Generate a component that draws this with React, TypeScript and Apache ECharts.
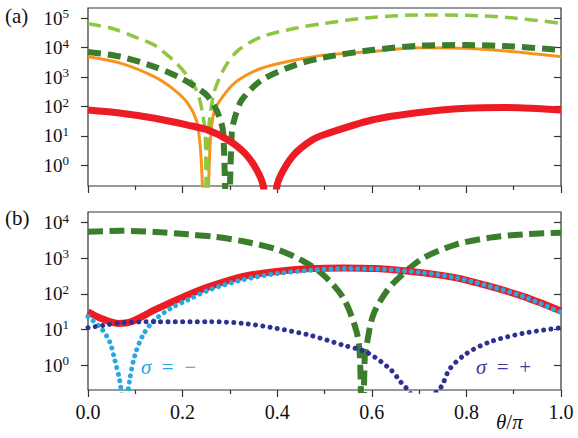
import React, { useEffect, useRef } from "react";
import * as echarts from "echarts";

const FONT = "Liberation Serif";

// axis ticks
const yTicksA = [1, 10, 100, 1000, 10000, 100000];
const yTicksB = [1, 10, 100, 1000, 10000];

// ---------- Panel (a) ----------
const thetaA_lightGreen = [0, 0.05, 0.1, 0.14, 0.17, 0.19, 0.21, 0.225, 0.235, 0.243, 0.248, 0.251, 0.254, 0.259, 0.268, 0.29, 0.318, 0.367, 0.438, 0.5, 0.6, 0.7, 0.8, 0.9, 1.0];
const valA_lightGreen = [65000, 46000, 23000, 12300, 5250, 2630, 1120, 500, 200, 50, 10, 0.001, 10, 63, 363, 2240, 8300, 23400, 45700, 67600, 107000, 129000, 126000, 102000, 67600];

const thetaA_darkGreen = [0, 0.07, 0.141, 0.197, 0.247, 0.268, 0.28, 0.286, 0.295, 0.304, 0.31, 0.325, 0.367, 0.438, 0.5, 0.6, 0.7, 0.8, 0.9, 1.0];
const valA_darkGreen = [7200, 4900, 2240, 910, 280, 98, 35, 12.5, 0.001, 12.5, 40, 166, 790, 2570, 4680, 8300, 11700, 12300, 11000, 8300];

const thetaA_orange = [0, 0.07, 0.141, 0.183, 0.211, 0.229, 0.236, 0.24, 0.249, 0.257, 0.261, 0.268, 0.29, 0.318, 0.367, 0.438, 0.5, 0.6, 0.7, 0.8, 0.9, 1.0];
const valA_orange = [4900, 2950, 1020, 363, 129, 35, 7.2, 1.0, 0.001, 2.0, 20, 76, 282, 794, 2000, 3800, 5600, 7400, 10000, 9550, 7240, 4900];

const thetaA_red = [0, 0.07, 0.141, 0.211, 0.254, 0.297, 0.332, 0.357, 0.371, 0.385, 0.399, 0.413, 0.438, 0.473, 0.5, 0.6, 0.7, 0.8, 0.88, 1.0];
const valA_red = [76, 59, 40, 23.4, 15.8, 7.2, 2.57, 0.69, 0.186, 0.001, 0.186, 0.69, 2.57, 7.2, 11.2, 35, 63, 87, 93, 76];

// ---------- Panel (b) ----------
const thetaB_darkGreen = [0, 0.07, 0.141, 0.211, 0.268, 0.328, 0.399, 0.455, 0.497, 0.54, 0.568, 0.575, 0.58, 0.585, 0.589, 0.603, 0.631, 0.66, 0.709, 0.779, 0.85, 0.92, 1.0];
const valB_darkGreen = [5600, 5900, 5500, 4700, 4000, 3000, 1780, 830, 347, 76, 8.5, 1.6, 0.001, 1.6, 3.6, 25.7, 117, 309, 1020, 2450, 3800, 4700, 5250];

const thetaB_red = [0, 0.028, 0.063, 0.092, 0.141, 0.211, 0.258, 0.328, 0.399, 0.469, 0.54, 0.61, 0.709, 0.779, 0.85, 0.92, 1.0];
const valB_red = [31.6, 20.4, 14.8, 16.6, 35.5, 93, 162, 309, 427, 513, 537, 513, 389, 282, 162, 85, 33];

const thetaB_minus = [0, 0.028, 0.046, 0.056, 0.067, 0.072, 0.078, 0.083, 0.088, 0.099, 0.116, 0.141, 0.176, 0.211, 0.258, 0.328, 0.399, 0.469, 0.54, 0.61, 0.709, 0.779, 0.85, 0.92, 1.0];
const valB_minus = [22.9, 10.7, 4.5, 1.5, 0.37, 0.1, 0.001, 0.1, 0.37, 1.86, 6.9, 18.6, 40, 68, 132, 251, 372, 457, 513, 501, 389, 282, 162, 85, 30];

const thetaB_plus = [0, 0.035, 0.07, 0.141, 0.258, 0.328, 0.399, 0.469, 0.54, 0.589, 0.638, 0.66, 0.685, 0.709, 0.73, 0.748, 0.765, 0.8, 0.85, 0.92, 1.0];
const valB_plus = [11.2, 13.2, 15.5, 16.6, 16.6, 14.8, 10.7, 6.9, 3.6, 2.3, 0.79, 0.35, 0.126, 0.001, 0.126, 0.26, 0.79, 2.1, 4.5, 7.8, 11.2];

const pairs = (t: number[], v: number[]) => t.map((x, i) => [x, v[i]]);

const C_LIGHTGREEN = "#8dc63f";
const C_DARKGREEN = "#3a7d2c";
const C_ORANGE = "#f7941d";
const C_RED = "#ed1c24";
const C_LIGHTBLUE = "#29a8e0";
const C_DARKBLUE = "#2e3192";
const AX = "#333333";
const TXT = "#111111";

export default function App() {
  const ref = useRef<HTMLDivElement>(null);
  useEffect(() => {
    const chart = echarts.init(ref.current!, null, { renderer: "svg" });

    const yLabel = (ticks: number[]) => ({
      show: true,
      margin: 19,
      customValues: ticks,
      fontFamily: FONT,
      formatter: (v: number) => `{b|10}{s|${Math.round(Math.log10(v))}}`,
      rich: {
        b: { fontFamily: FONT, fontSize: 19, color: TXT, lineHeight: 22 },
        s: { fontFamily: FONT, fontSize: 13, color: TXT, lineHeight: 12, verticalAlign: "top" },
      },
    });

    const leftY = (gridIndex: number, min: number, max: number, ticks: number[]) => ({
      type: "log",
      logBase: 10,
      gridIndex,
      position: "left",
      min,
      max,
      axisLine: { show: false },
      splitLine: { show: false },
      axisTick: { show: true, inside: false, length: 7, customValues: ticks, lineStyle: { color: AX, width: 1.2 } },
      axisLabel: yLabel(ticks),
    });
    const rightY = (gridIndex: number, min: number, max: number, ticks: number[]) => ({
      type: "log",
      logBase: 10,
      gridIndex,
      position: "right",
      min,
      max,
      axisLine: { show: false },
      splitLine: { show: false },
      axisTick: { show: true, inside: true, length: 7, customValues: ticks, lineStyle: { color: AX, width: 1.2 } },
      axisLabel: { show: false },
    });
    const xAx = (gridIndex: number, labels: boolean) => ({
      type: "value",
      gridIndex,
      min: 0,
      max: 1,
      interval: 0.2,
      axisLine: { show: false },
      splitLine: { show: false },
      axisTick: { show: true, inside: false, length: 7, lineStyle: { color: AX, width: 1.2 } },
      minorTick: { show: true, splitNumber: 2, length: 4, lineStyle: { color: AX, width: 1.2 } },
      axisLabel: {
        show: labels,
        margin: 12,
        fontFamily: FONT,
        fontSize: 20,
        color: TXT,
        formatter: (v: number) => v.toFixed(1),
      },
    });

    const base = (name: string, xi: number, yi: number, data: number[][]) => ({
      name, type: "line", xAxisIndex: xi, yAxisIndex: yi, data, showSymbol: false, symbol: "none",
      smooth: 0.3, clip: true,
    });
    const dashed = (name: string, xi: number, yi: number, data: number[][], color: string, width: number, dash: number[]) => ({
      ...base(name, xi, yi, data),
      lineStyle: { color, width, type: dash, cap: "butt" },
    });
    const solid = (name: string, xi: number, yi: number, data: number[][], color: string, width: number) => ({
      ...base(name, xi, yi, data),
      lineStyle: { color, width, type: "solid" },
    });
    const dotted = (name: string, xi: number, yi: number, data: number[][], color: string, width: number, gap: number) => ({
      ...base(name, xi, yi, data),
      lineStyle: { color, width, type: [0.01, gap], cap: "round" },
    });

    const minA = Math.pow(10, -0.7), maxA = Math.pow(10, 5.35);
    const minB = Math.pow(10, -0.7), maxB = Math.pow(10, 4.3);

    const italicRich = (fill: string) => ({ i: { fontStyle: "italic", fontFamily: FONT, fontSize: 21, fill } });

    const option: any = {
      animation: false,
      backgroundColor: "#ffffff",
      textStyle: { fontFamily: FONT },
      grid: [
        { left: 88, top: 8, width: 473, height: 178, show: true, borderColor: AX, borderWidth: 1.2, backgroundColor: "transparent" },
        { left: 88, top: 212, width: 473, height: 178, show: true, borderColor: AX, borderWidth: 1.2, backgroundColor: "transparent" },
      ],
      xAxis: [xAx(0, false), xAx(1, true)],
      yAxis: [
        leftY(0, minA, maxA, yTicksA),
        rightY(0, minA, maxA, yTicksA),
        leftY(1, minB, maxB, yTicksB),
        rightY(1, minB, maxB, yTicksB),
      ],
      series: [
        solid("a-orange", 0, 0, pairs(thetaA_orange, valA_orange), C_ORANGE, 3),
        dashed("a-lightgreen", 0, 0, pairs(thetaA_lightGreen, valA_lightGreen), C_LIGHTGREEN, 3.5, [13, 7]),
        dashed("a-darkgreen", 0, 0, pairs(thetaA_darkGreen, valA_darkGreen), C_DARKGREEN, 6, [13, 7]),
        solid("a-red", 0, 0, pairs(thetaA_red, valA_red), C_RED, 7),
        dashed("b-darkgreen", 1, 2, pairs(thetaB_darkGreen, valB_darkGreen), C_DARKGREEN, 6, [15, 6.5]),
        solid("b-red", 1, 2, pairs(thetaB_red, valB_red), C_RED, 7),
        dotted("b-minus", 1, 2, pairs(thetaB_minus, valB_minus), C_LIGHTBLUE, 5, 6.7),
        dotted("b-plus", 1, 2, pairs(thetaB_plus, valB_plus), C_DARKBLUE, 5, 7.3),
      ],
      graphic: [
        { type: "text", left: 5, top: 5, style: { text: "(a)", fontFamily: FONT, fontSize: 21, fill: TXT } },
        { type: "text", left: 5, top: 207, style: { text: "(b)", fontFamily: FONT, fontSize: 21, fill: TXT } },
        {
          type: "text", left: 141, top: 356,
          style: { text: "{i|σ}  =  −", rich: italicRich(C_LIGHTBLUE), fontFamily: FONT, fontSize: 21, fill: C_LIGHTBLUE },
        },
        {
          type: "text", left: 476, top: 356,
          style: { text: "{i|σ}  =  +", rich: italicRich("#3a3d9e"), fontFamily: FONT, fontSize: 21, fill: "#3a3d9e" },
        },
        {
          type: "text", left: 496, top: 411,
          style: { text: "{i|θ}/{i|π}", rich: italicRich(TXT), fontFamily: FONT, fontSize: 21, fill: TXT },
        },
      ],
    };
    chart.setOption(option);
    return () => chart.dispose();
  }, []);
  return <div ref={ref} style={{ position: "fixed", left: 0, top: 0, width: 578, height: 438 }} />;
}
